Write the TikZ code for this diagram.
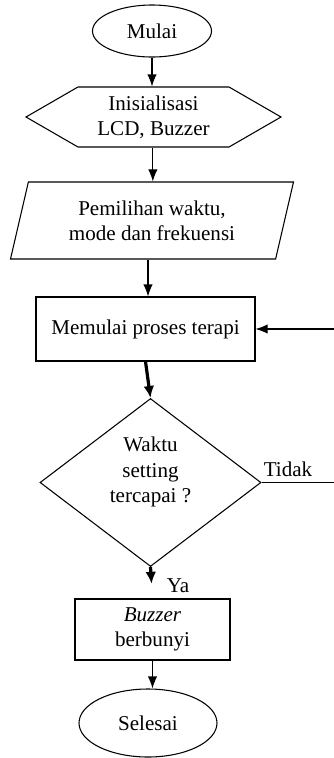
\documentclass[tikz,border=0pt]{standalone}
\usepackage{fontspec}
\setmainfont{Liberation Serif}
\usepackage{tikz}
\usetikzlibrary{arrows.meta, positioning, shapes.geometric, shapes.symbols}

\begin{document}
\begin{tikzpicture}[
  x=0.75pt, y=-0.75pt,
  font=\fontsize{15.8}{19}\selectfont,
  box/.style={draw=black, line width=0.8pt, align=center, inner sep=0pt},
  terminal/.style={box, ellipse},
  prep/.style={box, signal, signal to=east and west, signal pointer angle=60},
  io/.style={box, trapezium, trapezium left angle=66, trapezium right angle=114, trapezium stretches body},
  process/.style={box, rectangle},
  decision/.style={box, diamond},
  arrow/.style={-{Latex[length=9pt, width=7pt]}, line width=0.8pt},
  boldarrow/.style={-{Latex[length=9pt, width=8pt]}, line width=2.4pt},
  tag/.style={inner sep=0pt}
]
\useasboundingbox (0,0) rectangle (334,758);

\node[terminal, minimum width=89.25pt, minimum height=39pt] (mulai) at (152,31) {Mulai};
\node[prep, minimum width=191.25pt, minimum height=45pt] (init) at (153.5,117) {Inisialisasi\\LCD, Buzzer};
\node[io, minimum width=212.25pt, minimum height=57.75pt] (pilih) at (152,220.5) {Pemilihan waktu,\\mode dan frekuensi};
\node[process, minimum width=164.25pt, minimum height=48pt] (proses) at (145.5,329) {Memulai proses terapi};
\node[decision, minimum width=165.75pt, minimum height=126pt] (cek) at (150.5,482.5) {};
\node[tag, align=center] (cektext) at (150.5,472) {Waktu\\setting\\tercapai ?};
\node[process, minimum width=116.25pt, minimum height=45.75pt] (buzzer) at (152.5,629.5) {\textit{Buzzer}\\berbunyi};
\node[terminal, minimum width=103.5pt, minimum height=51pt] (selesai) at (148,723) {Selesai};

\node[tag] (tidak) at (288,469) {Tidak};
\node[tag] (ya) at (178,586) {Ya};
\coordinate (balik) at (345,482.5);

\draw[arrow] (mulai.south) -- (mulai.south |- init.north);
\draw[arrow] ([xshift=-0.5]init.south) -- ([xshift=-0.5]init.south |- pilih.north);
\draw[arrow] ([xshift=-3]pilih.south) -- ([xshift=-3]pilih.south |- proses.north);
\draw[boldarrow] (proses.south) -- (cek.north);
\draw[boldarrow, shorten >=11pt] (cek.south) -- (buzzer.north);
\draw[arrow] (buzzer.south) -- (buzzer.south |- selesai.north);
\draw[arrow] (cek.east) -- (balik) |- (proses.east);
\end{tikzpicture}
\end{document}
